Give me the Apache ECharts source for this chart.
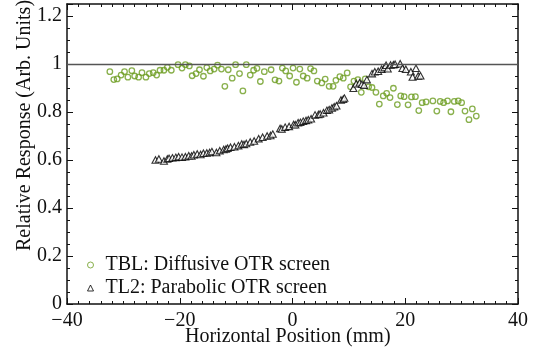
<!DOCTYPE html>
<html>
<head>
<meta charset="utf-8">
<script src="https://cdn.jsdelivr.net/npm/echarts@6/dist/echarts.min.js"></script>
<style>
  html, body { margin: 0; padding: 0; background: #fff; }
  #chart { width: 545px; height: 348px; }
</style>
</head>
<body>
<div id="chart"></div>
<script>
// Horizontal position (mm) and relative response of the TBL diffusive OTR screen
const tblPos = [
  -32.4, -31.7, -31.1, -30.4, -29.8, -29.2, -28.5, -28.0, -27.3, -26.7,
  -26.0, -25.4, -24.7, -24.1, -23.5, -22.8, -22.2, -21.5, -20.3, -19.6,
  -19.0, -18.3, -17.8, -17.1, -16.5, -15.8, -15.2, -14.6, -13.9, -13.3,
  -12.6, -12.0, -11.4, -10.7, -10.1, -9.4, -8.8, -8.2, -7.5, -6.9,
  -6.3, -5.7, -5.0, -3.8, -3.1, -2.4, -1.8, -1.2, -0.5, 0.1,
  0.7, 1.3, 1.9, 2.6, 3.2, 3.8, 4.4, 5.2, 5.8, 6.5,
  7.2, 7.7, 8.4, 9.0, 9.7, 10.3, 10.9, 11.6, 12.2, 12.9,
  13.5, 14.1, 14.8, 15.4, 16.1, 16.7, 17.3, 17.9, 18.6, 19.2,
  19.8, 20.5, 21.1, 21.8, 22.4, 23.0, 23.7, 24.9, 25.6, 26.2,
  26.8, 27.5, 28.1, 28.7, 29.4, 30.0, 30.6, 31.3, 31.9, 32.6
];
const tblResp = [
  0.968, 0.935, 0.938, 0.954, 0.968, 0.945, 0.972, 0.950, 0.945, 0.964,
  0.945, 0.960, 0.964, 0.954, 0.974, 0.974, 0.986, 0.974, 0.997, 0.983,
  0.997, 0.992, 0.951, 0.960, 0.976, 0.949, 0.985, 0.971, 0.979, 0.995,
  0.979, 0.907, 0.976, 0.941, 0.997, 0.960, 0.888, 0.997, 0.954, 0.974,
  0.982, 0.927, 0.968, 0.976, 0.934, 0.929, 0.983, 0.971, 0.950, 0.983,
  0.924, 0.979, 0.950, 0.941, 0.981, 0.971, 0.929, 0.921, 0.937, 0.907,
  0.907, 0.932, 0.947, 0.941, 0.963, 0.905, 0.929, 0.935, 0.882, 0.938,
  0.905, 0.902, 0.882, 0.833, 0.867, 0.878, 0.860, 0.899, 0.831, 0.867,
  0.864, 0.830, 0.863, 0.864, 0.806, 0.839, 0.842, 0.846, 0.804, 0.844,
  0.839, 0.846, 0.801, 0.844, 0.846, 0.839, 0.804, 0.768, 0.813, 0.783
];

// Horizontal position (mm) and relative response of the TL2 parabolic OTR screen
const tl2Pos = [
  -24.3, -23.7, -22.8, -22.2, -21.9, -21.3, -20.7, -20.2, -19.6, -19.0,
  -18.4, -17.9, -17.5, -16.9, -16.3, -15.8, -15.2, -14.7, -14.3, -13.5,
  -12.9, -12.2, -11.8, -11.5, -11.0, -10.3, -9.6, -9.0, -8.6, -8.2,
  -7.5, -6.8, -6.0, -5.3, -4.5, -3.9, -3.5, -2.2, -1.9, -1.3,
  -0.6, 0.2, 0.5, 1.0, 1.4, 1.9, 2.4, 2.8, 3.3, 4.0,
  4.6, 4.9, 5.5, 6.1, 6.5, 7.0, 7.4, 7.8, 8.6, 9.0,
  9.2, 10.8, 11.3, 11.9, 12.3, 12.7, 13.2, 14.1, 14.6, 15.2,
  15.8, 16.3, 16.6, 16.9, 17.4, 17.9, 18.2, 19.1, 19.5, 20.1,
  21.0, 21.3, 21.9, 22.3, 22.7
];
const tl2Resp = [
  0.600, 0.604, 0.596, 0.604, 0.607, 0.609, 0.611, 0.614, 0.612, 0.614,
  0.618, 0.617, 0.622, 0.625, 0.623, 0.628, 0.629, 0.631, 0.635, 0.631,
  0.639, 0.644, 0.646, 0.649, 0.653, 0.655, 0.660, 0.667, 0.665, 0.669,
  0.675, 0.679, 0.689, 0.695, 0.700, 0.702, 0.708, 0.731, 0.729, 0.737,
  0.740, 0.748, 0.747, 0.755, 0.757, 0.762, 0.765, 0.768, 0.772, 0.788,
  0.790, 0.792, 0.797, 0.807, 0.810, 0.817, 0.822, 0.826, 0.850, 0.853,
  0.858, 0.899, 0.918, 0.922, 0.916, 0.912, 0.935, 0.960, 0.968, 0.970,
  0.978, 0.985, 0.995, 0.980, 0.996, 0.997, 0.999, 1.001, 0.982, 0.978,
  0.968, 0.946, 0.982, 0.950, 0.951
];

const seriesNames = ['TBL: Diffusive OTR screen', 'TL2: Parabolic OTR screen'];
const referenceLevel = 1;

const FONT = '"Liberation Serif", "Times New Roman", serif';
const INK = '#111';
const GREEN = '#6b9c1f';

const zip = (xs, ys) => xs.map((x, i) => [x, ys[i]]);

const frameAxis = (extra) => Object.assign({
  type: 'value',
  axisLine: { show: true, onZero: false, lineStyle: { color: INK, width: 1.5 } },
  axisTick: { show: true, inside: true, length: 6, lineStyle: { color: INK, width: 1 } },
  splitLine: { show: false },
  minorSplitLine: { show: false }
}, extra);

const minor = (n) => ({ show: true, splitNumber: n, length: 3, lineStyle: { color: INK, width: 1 } });

const chart = echarts.init(document.getElementById('chart'), null, { renderer: 'canvas' });

chart.setOption({
  animation: false,
  backgroundColor: '#fff',
  textStyle: { fontFamily: FONT, color: INK },
  grid: { left: 67, right: 27, top: 4, bottom: 44, containLabel: false },
  xAxis: [
    frameAxis({
      min: -40, max: 40, interval: 20, position: 'bottom',
      minorTick: minor(10),
      axisLabel: {
        show: true, margin: 7, fontSize: 20, fontFamily: FONT, color: INK,
        formatter: v => (v < 0 ? '\u2212' + Math.abs(v) : String(v))
      }
    }),
    frameAxis({
      min: -40, max: 40, interval: 20, position: 'top',
      minorTick: minor(10),
      axisLabel: { show: false }
    })
  ],
  yAxis: [
    frameAxis({
      min: 0, max: 1.25, interval: 0.2, position: 'left',
      minorTick: minor(4),
      axisLabel: {
        show: true, margin: 5, fontSize: 20, fontFamily: FONT, color: INK,
        formatter: v => (v > 1.21 ? '' : String(Math.round(v * 10) / 10))
      }
    }),
    frameAxis({
      min: 0, max: 1.25, interval: 0.2, position: 'right',
      minorTick: minor(4),
      axisLabel: { show: false }
    })
  ],
  legend: {
    orient: 'vertical',
    left: 82, top: 250,
    itemWidth: 6, itemHeight: 6, itemGap: 3,
    selectedMode: false,
    textStyle: { fontFamily: FONT, fontSize: 20, color: INK, padding: [0, 0, 0, 7] },
    data: [
      { name: seriesNames[0], icon: 'circle',
        itemStyle: { color: '#fff', borderColor: GREEN, borderWidth: 1 } },
      { name: seriesNames[1], icon: 'triangle',
        itemStyle: { color: '#fff', borderColor: '#000', borderWidth: 1 } }
    ]
  },
  series: [
    {
      name: seriesNames[0],
      type: 'scatter',
      data: zip(tblPos, tblResp),
      symbol: 'circle',
      symbolSize: 5.5,
      itemStyle: { color: 'rgba(255,255,255,0)', borderColor: GREEN, borderWidth: 1.3 },
      markLine: {
        silent: true,
        symbol: 'none',
        label: { show: false },
        lineStyle: { color: '#555', width: 1.3, type: 'solid' },
        data: [{ yAxis: referenceLevel }]
      },
      z: 3
    },
    {
      name: seriesNames[1],
      type: 'scatter',
      data: zip(tl2Pos, tl2Resp),
      symbol: 'triangle',
      symbolSize: [7, 6.5],
      itemStyle: { color: '#fff', borderColor: '#000', borderWidth: 1.1 },
      z: 4
    }
  ],
  graphic: [
    {
      type: 'text',
      left: 185, top: 327,
      style: { text: 'Horizontal Position (mm)', font: '20px ' + FONT, fill: INK }
    },
    {
      type: 'text',
      x: 15, y: 251,
      rotation: Math.PI / 2,
      style: { text: 'Relative Response (Arb. Units)', font: '20px ' + FONT, fill: INK }
    }
  ]
});
</script>
</body>
</html>
